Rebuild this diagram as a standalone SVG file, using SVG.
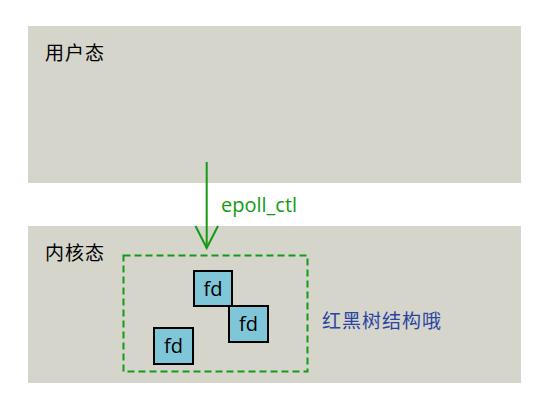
<svg xmlns="http://www.w3.org/2000/svg" width="550" height="400" viewBox="0 0 550 400">
<defs>
<style>
.panel{fill:#d5d5cc;}
.cn{font-family:"Noto Sans CJK SC","Noto Sans",sans-serif;font-size:19px;letter-spacing:1px;}
.fdbox{fill:#7ec6d8;stroke:#000;stroke-width:2;}
.fdtxt{font-family:"Open Sans","Noto Sans",sans-serif;font-size:20px;fill:#000;text-anchor:middle;}
</style>
</defs>
<rect width="550" height="400" fill="#ffffff"/>
<g id="user-space">
<rect class="panel" x="28" y="26" width="493" height="157"/>
<text class="cn" x="45" y="60" fill="#000">用户态</text>
</g>
<g id="kernel-space">
<rect class="panel" x="28" y="226" width="493" height="157"/>
<text class="cn" x="45" y="260" fill="#000">内核态</text>
</g>
<g id="rbtree">
<rect x="123.5" y="255.5" width="184" height="116" fill="none" stroke="#149a14" stroke-width="2" stroke-dasharray="7,4"/>
<text class="cn" x="322" y="328" fill="#2a44a0">红黑树结构哦</text>
</g>
<g id="fd1">
<rect class="fdbox" x="194" y="271" width="38" height="35"/>
<text class="fdtxt" x="213" y="296">fd</text>
</g>
<g id="fd2">
<rect class="fdbox" x="229" y="306" width="39" height="36"/>
<text class="fdtxt" x="248.5" y="331">fd</text>
</g>
<g id="fd3">
<rect class="fdbox" x="154" y="328" width="39" height="36"/>
<text class="fdtxt" x="173.5" y="353">fd</text>
</g>
<g id="connectors">
<line x1="206.7" y1="162" x2="206.7" y2="248" stroke="#149a14" stroke-width="2"/>
<polyline points="195.5,226 206.7,248 218,226" fill="none" stroke="#149a14" stroke-width="2"/>
<text x="221" y="212" font-family="'Open Sans','Noto Sans',sans-serif" font-size="20" fill="#149a14">epoll_ctl</text>
</g>
</svg>
